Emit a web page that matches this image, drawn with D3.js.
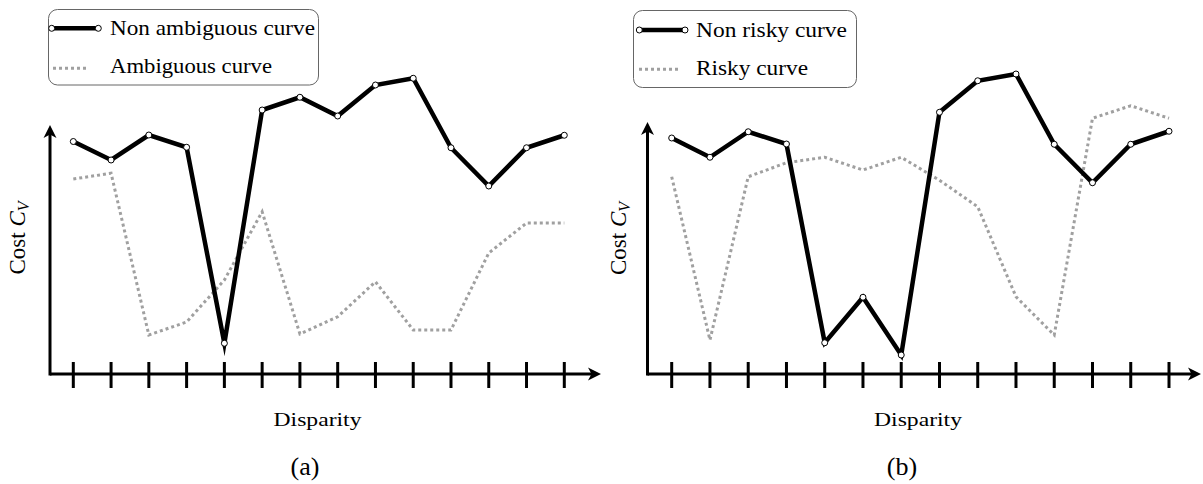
<!DOCTYPE html>
<html>
<head>
<meta charset="utf-8">
<script src="https://cdn.jsdelivr.net/npm/d3@7"></script>
<style>
  body { margin: 0; background: #fff; }
  text { font-family: "Liberation Serif", "DejaVu Serif", serif; fill: #000; }
</style>
</head>
<body>
<div id="my_dataviz"></div>
<script>
// data (cost in arbitrary units)
var disparities = [1, 2, 3, 4, 5, 6, 7, 8, 9, 10, 11, 12, 13, 14];
var nonAmbiguous = [9.3, 8.56, 9.56, 9.07, 1.23, 10.56, 11.07, 10.32, 11.56, 11.83, 9.05, 7.52, 9.05, 9.55];
var ambiguous = [7.8, 8.03, 1.56, 2.08, 3.76, 6.49, 1.6, 2.29, 3.69, 1.76, 1.76, 4.84, 6.04, 6.04];
var nonRisky = [9.44, 8.67, 9.69, 9.2, 1.25, 3.07, 0.76, 10.47, 11.73, 12.0, 9.19, 7.65, 9.19, 9.71];
var risky = [7.89, 1.36, 7.89, 8.45, 8.67, 8.16, 8.67, 7.75, 6.69, 3.09, 1.56, 10.23, 10.73, 10.23];
var legendA = ["Non ambiguous curve", "Ambiguous curve"];
var legendB = ["Non risky curve", "Risky curve"];
var captions = ["(a)", "(b)"];
var xLabel = "Disparity";

var svg = d3.select("#my_dataviz")
  .append("svg")
    .attr("width", 1203)
    .attr("height", 484);

var panels = [
  { solid: nonAmbiguous, dotted: ambiguous, legend: legendA, caption: captions[0],
    axisX: 50, axisTop: 125, xEnd: 601, tickRange: [73.3, 564.3],
    box: [48.5, 9.5, 270, 75.5], legendLine: [51.7, 98.3], dotLine: [53, 88],
    textX: 110, rows: [28.3, 68.3], base: [35, 73.3], widths: [205, 162],
    labelX: 25, labelY: 238, xLabelX: 317.5, captionX: 305 },
  { solid: nonRisky, dotted: risky, legend: legendB, caption: captions[1],
    axisX: 647.5, axisTop: 122, xEnd: 1201, tickRange: [671.7, 1169],
    box: [633.5, 10.5, 223, 77], legendLine: [639.3, 685], dotLine: [639, 680],
    textX: 696, rows: [30, 69.3], base: [36.7, 75], widths: [151, 112],
    labelX: 626, labelY: 238.5, xLabelX: 918, captionX: 902 }
];

var axisY = 374;

panels.forEach(function(p) {
  var g = svg.append("g");

  var x = d3.scalePoint()
    .domain(disparities)
    .range(p.tickRange);

  var y = d3.scaleLinear()
    .domain([0, 10])
    .range([axisY, 124]);

  // axes
  g.append("line")
    .attr("x1", p.axisX).attr("y1", axisY)
    .attr("x2", p.xEnd - 8).attr("y2", axisY)
    .attr("stroke", "#000").attr("stroke-width", 3);
  g.append("line")
    .attr("x1", p.axisX).attr("y1", axisY + 1.5)
    .attr("x2", p.axisX).attr("y2", p.axisTop + 8)
    .attr("stroke", "#000").attr("stroke-width", 3);

  // arrow heads
  g.append("path")
    .attr("d", "M" + p.xEnd + "," + axisY + " L" + (p.xEnd - 13) + "," + (axisY - 6.5) +
      " L" + (p.xEnd - 9.5) + "," + axisY + " L" + (p.xEnd - 13) + "," + (axisY + 6.5) + " Z")
    .attr("fill", "#000");
  g.append("path")
    .attr("d", "M" + p.axisX + "," + p.axisTop + " L" + (p.axisX - 6.5) + "," + (p.axisTop + 13) +
      " L" + p.axisX + "," + (p.axisTop + 9.5) + " L" + (p.axisX + 6.5) + "," + (p.axisTop + 13) + " Z")
    .attr("fill", "#000");

  // ticks
  g.selectAll(".tick")
    .data(disparities)
    .enter()
    .append("line")
      .attr("x1", function(d) { return x(d); })
      .attr("x2", function(d) { return x(d); })
      .attr("y1", axisY - 12)
      .attr("y2", axisY + 14)
      .attr("stroke", "#000")
      .attr("stroke-width", 3);

  var line = d3.line()
    .x(function(d, i) { return x(disparities[i]); })
    .y(function(d) { return y(d); });

  // dotted curve
  g.append("path")
    .datum(p.dotted)
    .attr("d", line)
    .attr("fill", "none")
    .attr("stroke", "#a0a0a0")
    .attr("stroke-width", 3)
    .attr("stroke-dasharray", "3,3");

  // solid curve
  g.append("path")
    .datum(p.solid)
    .attr("d", line)
    .attr("fill", "none")
    .attr("stroke", "#000")
    .attr("stroke-width", 4.5)
    .attr("stroke-linejoin", "miter")
    .attr("stroke-miterlimit", 20);

  g.selectAll(".pt")
    .data(p.solid)
    .enter()
    .append("circle")
      .attr("cx", function(d, i) { return x(disparities[i]); })
      .attr("cy", function(d) { return y(d); })
      .attr("r", 3)
      .attr("fill", "#fff")
      .attr("stroke", "#000")
      .attr("stroke-width", 1);

  // legend
  g.append("rect")
    .attr("x", p.box[0]).attr("y", p.box[1])
    .attr("width", p.box[2]).attr("height", p.box[3])
    .attr("rx", 9)
    .attr("fill", "#fff")
    .attr("stroke", "#666")
    .attr("stroke-width", 1);
  g.append("line")
    .attr("x1", p.legendLine[0]).attr("x2", p.legendLine[1])
    .attr("y1", p.rows[0]).attr("y2", p.rows[0])
    .attr("stroke", "#000").attr("stroke-width", 4.5);
  g.selectAll(".lg")
    .data(p.legendLine)
    .enter()
    .append("circle")
      .attr("cx", function(d) { return d; })
      .attr("cy", p.rows[0])
      .attr("r", 3)
      .attr("fill", "#fff")
      .attr("stroke", "#000");
  g.append("line")
    .attr("x1", p.dotLine[0]).attr("x2", p.dotLine[1])
    .attr("y1", p.rows[1]).attr("y2", p.rows[1])
    .attr("stroke", "#a0a0a0").attr("stroke-width", 3)
    .attr("stroke-dasharray", "3,3");
  p.legend.forEach(function(t, i) {
    g.append("text")
      .attr("x", p.textX)
      .attr("y", p.base[i])
      .attr("font-size", 22)
      .attr("textLength", p.widths[i])
      .attr("lengthAdjust", "spacingAndGlyphs")
      .text(t);
  });

  // y label: Cost C_V
  var yl = g.append("text")
    .attr("transform", "translate(" + p.labelX + "," + p.labelY + ") rotate(-90)")
    .attr("text-anchor", "middle")
    .attr("font-size", 23);
  yl.append("tspan").text("Cost ");
  yl.append("tspan").attr("font-style", "italic").text("C");
  yl.append("tspan").attr("font-style", "italic").attr("font-size", 16)
    .attr("dy", 4).text("V");

  // x label and caption
  g.append("text")
    .attr("x", p.xLabelX)
    .attr("y", 426)
    .attr("text-anchor", "middle")
    .attr("font-size", 19)
    .attr("textLength", 88)
    .attr("lengthAdjust", "spacingAndGlyphs")
    .text(xLabel);
  g.append("text")
    .attr("x", p.captionX)
    .attr("y", 475)
    .attr("text-anchor", "middle")
    .attr("font-size", 26)
    .text(p.caption);
});
</script>
</body>
</html>
